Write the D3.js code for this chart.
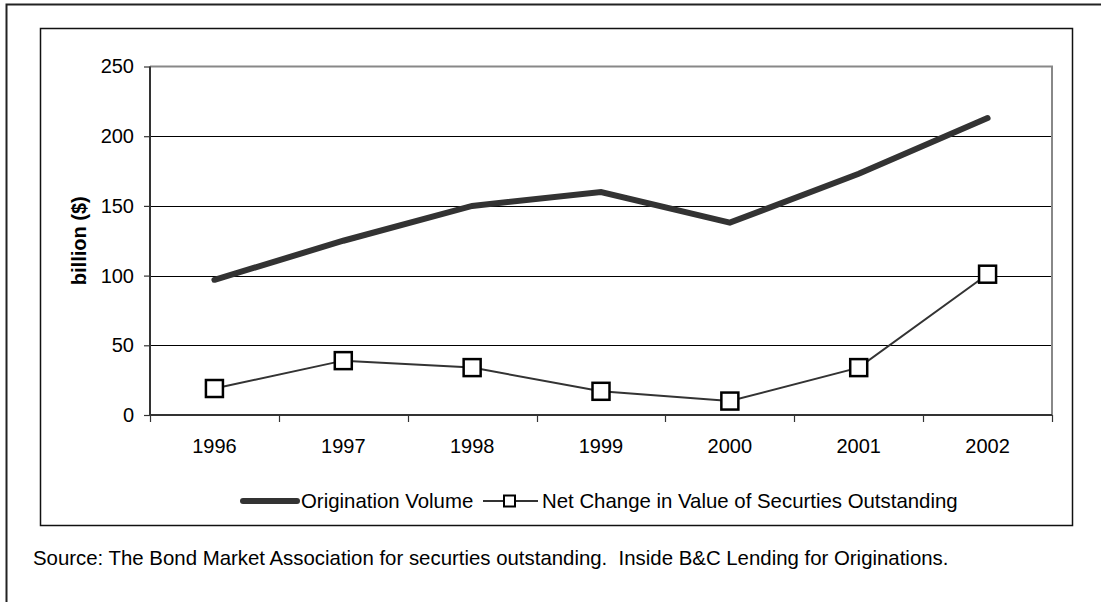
<!DOCTYPE html>
<html>
<head>
<meta charset="utf-8">
<script src="https://cdn.jsdelivr.net/npm/d3@7"></script>
<style>
  html, body { margin: 0; padding: 0; background: #fff; }
  svg { display: block; font-family: Arial, "Liberation Sans", sans-serif; }
  text { white-space: pre; }
</style>
</head>
<body>
<svg id="chart" width="1101" height="602"></svg>
<script>
// Series (billions of dollars)
const years = ["1996", "1997", "1998", "1999", "2000", "2001", "2002"];
const originationVolume = [97, 125, 150, 160, 138, 173, 213];
const netChangeOutstanding = [19, 39, 34, 17, 10, 34, 101];
const yTicks = [0, 50, 100, 150, 200, 250];
const seriesNames = ["Origination Volume", "Net Change in Value of Securties Outstanding"];
const sourceNote = "Source: The Bond Market Association for securties outstanding.  Inside B&C Lending for Originations.";

const FONT = 20;
const NOTE_FONT = 20.4;
const svg = d3.select("#chart");

// Outer page frame (runs off the right and bottom edges)
svg.append("rect")
  .attr("x", 6.5).attr("y", 4.5)
  .attr("width", 1200).attr("height", 700)
  .attr("fill", "none").attr("stroke", "#222").attr("stroke-width", 2);

// Chart box
svg.append("rect")
  .attr("x", 40.5).attr("y", 28.5)
  .attr("width", 1032).attr("height", 497)
  .attr("fill", "#fff").attr("stroke", "#111").attr("stroke-width", 1.5);

const plot = { left: 150, right: 1052, top: 66.5, bottom: 415 };

const x = d3.scaleBand().domain(years).range([plot.left, plot.right]).padding(0);
const y = d3.scaleLinear().domain([0, 250]).range([plot.bottom, plot.top]);

// Gridlines
svg.append("g")
  .selectAll("line")
  .data(yTicks.filter(t => t > 0 && t < 250))
  .join("line")
  .attr("x1", plot.left).attr("x2", plot.right)
  .attr("y1", d => Math.round(y(d)) + 0.5).attr("y2", d => Math.round(y(d)) + 0.5)
  .attr("stroke", "#000").attr("stroke-width", 1);

// Plot frame: top and right in grey
svg.append("path")
  .attr("d", `M${plot.left},${plot.top} H${plot.right} V${plot.bottom}`)
  .attr("fill", "none").attr("stroke", "#888").attr("stroke-width", 2);

// Y axis
const yAxis = d3.axisLeft(y).tickValues(yTicks).tickSize(6).tickPadding(10);
const gy = svg.append("g").attr("transform", `translate(${plot.left},0)`).call(yAxis);
gy.attr("font-size", FONT).attr("font-family", "Arial, 'Liberation Sans', sans-serif");
gy.select(".domain").attr("stroke", "#333").attr("stroke-width", 2)
  .attr("d", `M0,${plot.top}V${plot.bottom}`);
gy.selectAll(".tick line").attr("stroke", "#333").attr("stroke-width", 1.2);
gy.selectAll(".tick text").attr("fill", "#000");

// X axis: ticks at category boundaries, labels centred in each band
const gx = svg.append("g").attr("transform", `translate(0,${plot.bottom})`);
gx.append("line")
  .attr("x1", plot.left - 1).attr("x2", plot.right)
  .attr("y1", 0).attr("y2", 0)
  .attr("stroke", "#333").attr("stroke-width", 2);
const boundaries = years.map(d => x(d)).concat([x(years[years.length - 1]) + x.bandwidth()]);
gx.selectAll("line.tk")
  .data(boundaries)
  .join("line").attr("class", "tk")
  .attr("x1", d => Math.round(d) + 0.5).attr("x2", d => Math.round(d) + 0.5)
  .attr("y1", 0).attr("y2", 7)
  .attr("stroke", "#333").attr("stroke-width", 1.2);
gx.selectAll("text")
  .data(years)
  .join("text")
  .attr("x", d => x(d) + x.bandwidth() / 2)
  .attr("y", 38)
  .attr("text-anchor", "middle")
  .attr("font-size", FONT)
  .attr("fill", "#000")
  .text(d => d);

// Y axis title
svg.append("text")
  .attr("transform", `translate(86,${(plot.top + plot.bottom) / 2}) rotate(-90)`)
  .attr("text-anchor", "middle")
  .attr("font-size", FONT).attr("font-weight", "bold")
  .text("billion ($)");

const cx = d => x(d) + x.bandwidth() / 2;

// Origination Volume: heavy line
const seriesLine = d3.line().x((d, i) => cx(years[i])).y(d => y(d));
svg.append("path")
  .datum(originationVolume)
  .attr("d", seriesLine)
  .attr("fill", "none").attr("stroke", "#333")
  .attr("stroke-width", 6).attr("stroke-linecap", "round").attr("stroke-linejoin", "miter");

// Net change: thin line with square markers
svg.append("path")
  .datum(netChangeOutstanding)
  .attr("d", seriesLine)
  .attr("fill", "none").attr("stroke", "#333").attr("stroke-width", 2);
const sq = 17;
svg.append("g")
  .selectAll("rect")
  .data(netChangeOutstanding)
  .join("rect")
  .attr("x", (d, i) => cx(years[i]) - sq / 2)
  .attr("y", d => y(d) - sq / 2)
  .attr("width", sq).attr("height", sq)
  .attr("fill", "#fff").attr("stroke", "#000").attr("stroke-width", 2.5);

// Legend
const ly = 501;
const legend = svg.append("g");
legend.append("line")
  .attr("x1", 243).attr("x2", 297).attr("y1", ly).attr("y2", ly)
  .attr("stroke", "#333").attr("stroke-width", 6).attr("stroke-linecap", "round");
legend.append("text")
  .attr("x", 301).attr("y", ly + 7)
  .attr("font-size", NOTE_FONT)
  .text(seriesNames[0]);
legend.append("line")
  .attr("x1", 483).attr("x2", 538).attr("y1", ly).attr("y2", ly)
  .attr("stroke", "#333").attr("stroke-width", 2);
legend.append("rect")
  .attr("x", 504).attr("y", ly - 5.5).attr("width", 11).attr("height", 11)
  .attr("fill", "#fff").attr("stroke", "#000").attr("stroke-width", 2);
legend.append("text")
  .attr("x", 542).attr("y", ly + 7)
  .attr("font-size", NOTE_FONT)
  .text(seriesNames[1]);

// Source note
svg.append("text")
  .attr("x", 33).attr("y", 565)
  .attr("font-size", NOTE_FONT)
  .text(sourceNote);
</script>
</body>
</html>
